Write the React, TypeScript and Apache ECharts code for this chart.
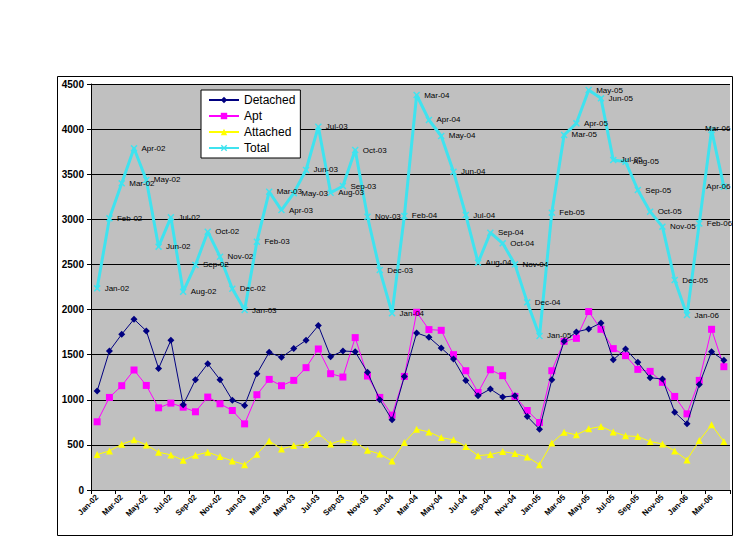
import React, { useEffect, useRef } from "react";
import * as echarts from "echarts";

const categories = [
  "Jan-02","Feb-02","Mar-02","Apr-02","May-02","Jun-02","Jul-02","Aug-02","Sep-02","Oct-02","Nov-02","Dec-02",
  "Jan-03","Feb-03","Mar-03","Apr-03","May-03","Jun-03","Jul-03","Aug-03","Sep-03","Oct-03","Nov-03","Dec-03",
  "Jan-04","Feb-04","Mar-04","Apr-04","May-04","Jun-04","Jul-04","Aug-04","Sep-04","Oct-04","Nov-04","Dec-04",
  "Jan-05","Feb-05","Mar-05","Apr-05","May-05","Jun-05","Jul-05","Aug-05","Sep-05","Oct-05","Nov-05","Dec-05",
  "Jan-06","Feb-06","Mar-06","Apr-06",
];

const detached = [
  1096,1541,1726,1893,1763,1348,1659,944,1222,1400,1222,996,
  937,1289,1526,1470,1567,1659,1822,1478,1541,1533,1304,1000,
  778,1259,1741,1693,1574,1452,1215,1044,1119,1030,1044,815,
  674,1222,1648,1752,1785,1852,1444,1563,1415,1244,1230,863,
  733,1170,1533,1437,
];

const apt = [
  756,1026,1156,1330,1159,911,963,918,867,1030,956,881,
  733,1056,1226,1156,1215,1356,1563,1289,1252,1689,1263,1026,
  830,1259,1970,1778,1770,1500,1322,1081,1333,1267,1037,881,
  748,1322,1648,1681,1978,1781,1567,1489,1337,1315,1193,1037,
  844,1215,1781,1367,
];

const attached = [
  393,433,507,556,500,419,389,330,385,419,370,322,
  281,396,544,455,492,503,626,511,556,533,440,400,
  322,526,674,644,581,556,481,381,393,426,404,367,
  281,522,641,611,678,704,644,600,593,537,511,433,
  333,548,722,537,
];

const total = [
  2235,3011,3399,3787,3436,2697,3022,2198,2494,2863,2586,2230,
  1995,2752,3306,3103,3290,3547,4027,3295,3369,3768,3029,2438,
  1960,3037,4378,4101,3924,3528,3048,2520,2852,2734,2501,2080,
  1707,3074,3935,4064,4433,4341,3658,3639,3325,3085,2919,2327,
  1939,2955,3990,3362,
];

const yTicks = { min: 0, max: 4500, interval: 500 };

// labels of the last points are pulled back inside the plot area, as in the reference
const labelShift: Record<string, [number, number]> = {
  "Mar-06": [-14, -2],
  "Apr-06": [-25, 0],
};

const CYAN = "#3FE3EF";
const X_SYMBOL =
  "path://M0,1.5L1.5,0L5,3.5L8.5,0L10,1.5L6.5,5L10,8.5L8.5,10L5,6.5L1.5,10L0,8.5L3.5,5Z";

export default function App() {
  const ref = useRef<HTMLDivElement>(null);

  useEffect(() => {
    if (!ref.current) return;
    const chart = echarts.init(ref.current, null, { renderer: "svg" });
    const font = "Arial, 'Liberation Sans', sans-serif";
    const totalData = total.map((v, i) => {
      const shift = labelShift[categories[i]];
      return shift ? { value: v, label: { offset: shift } } : v;
    });
    chart.setOption({
      animation: false,
      backgroundColor: "#ffffff",
      textStyle: { fontFamily: font },
      graphic: [
        {
          type: "rect",
          z: -10,
          shape: { x: 57.5, y: 76.5, width: 675, height: 459 },
          style: { fill: "none", stroke: "#000", lineWidth: 1 },
        },
      ],
      grid: {
        left: 91,
        right: 17,
        top: 84,
        bottom: 60,
        show: true,
        backgroundColor: "#C0C0C0",
        borderWidth: 0,
      },
      legend: {
        left: 201,
        top: 90,
        orient: "vertical",
        backgroundColor: "#ffffff",
        borderColor: "#000",
        borderWidth: 1,
        padding: [4, 5, 4, 7],
        itemGap: 4,
        itemWidth: 30,
        itemHeight: 8,
        textStyle: { fontSize: 12, color: "#000", fontFamily: font },
        data: ["Detached", "Apt", "Attached", "Total"],
      },
      xAxis: {
        type: "category",
        data: categories,
        boundaryGap: true,
        axisLine: { show: true, lineStyle: { color: "#000", width: 1 } },
        axisTick: { show: true, interval: 1, length: 4, lineStyle: { color: "#000" } },
        axisLabel: {
          interval: 1,
          rotate: 45,
          fontSize: 8,
          fontWeight: "bold",
          color: "#000",
          margin: 6,
          fontFamily: font,
        },
        splitLine: { show: false },
      },
      yAxis: {
        type: "value",
        min: yTicks.min,
        max: yTicks.max,
        interval: yTicks.interval,
        axisLine: { show: true, lineStyle: { color: "#000", width: 1 } },
        axisTick: { show: true, length: 4, lineStyle: { color: "#000" } },
        axisLabel: {
          fontSize: 10,
          fontWeight: "bold",
          color: "#000",
          margin: 7,
          fontFamily: font,
          formatter: (v: number) => String(v),
        },
        splitLine: { show: true, lineStyle: { color: "#000", width: 1 } },
      },
      series: [
        {
          name: "Detached",
          type: "line",
          data: detached,
          symbol: "diamond",
          symbolSize: 7,
          showAllSymbol: true,
          lineStyle: { color: "#000080", width: 1 },
          itemStyle: { color: "#000080" },
          z: 4,
        },
        {
          name: "Apt",
          type: "line",
          data: apt,
          symbol: "rect",
          symbolSize: 7,
          showAllSymbol: true,
          lineStyle: { color: "#FF00FF", width: 1 },
          itemStyle: { color: "#FF00FF" },
          z: 3,
        },
        {
          name: "Attached",
          type: "line",
          data: attached,
          symbol: "triangle",
          symbolSize: 7,
          showAllSymbol: true,
          lineStyle: { color: "#FFFF00", width: 1 },
          itemStyle: { color: "#FFFF00" },
          z: 2,
        },
        {
          name: "Total",
          type: "line",
          data: totalData,
          symbol: X_SYMBOL,
          symbolSize: 7,
          showAllSymbol: true,
          lineStyle: { color: CYAN, width: 3 },
          itemStyle: { color: CYAN },
          z: 5,
          label: {
            show: true,
            position: "right",
            distance: 4,
            formatter: "{b}",
            fontSize: 8,
            color: "#000",
            fontFamily: font,
          },
        },
      ],
    });
    return () => chart.dispose();
  }, []);

  return (
    <div
      ref={ref}
      style={{ position: "fixed", left: 0, top: 0, width: 747, height: 550 }}
    />
  );
}
